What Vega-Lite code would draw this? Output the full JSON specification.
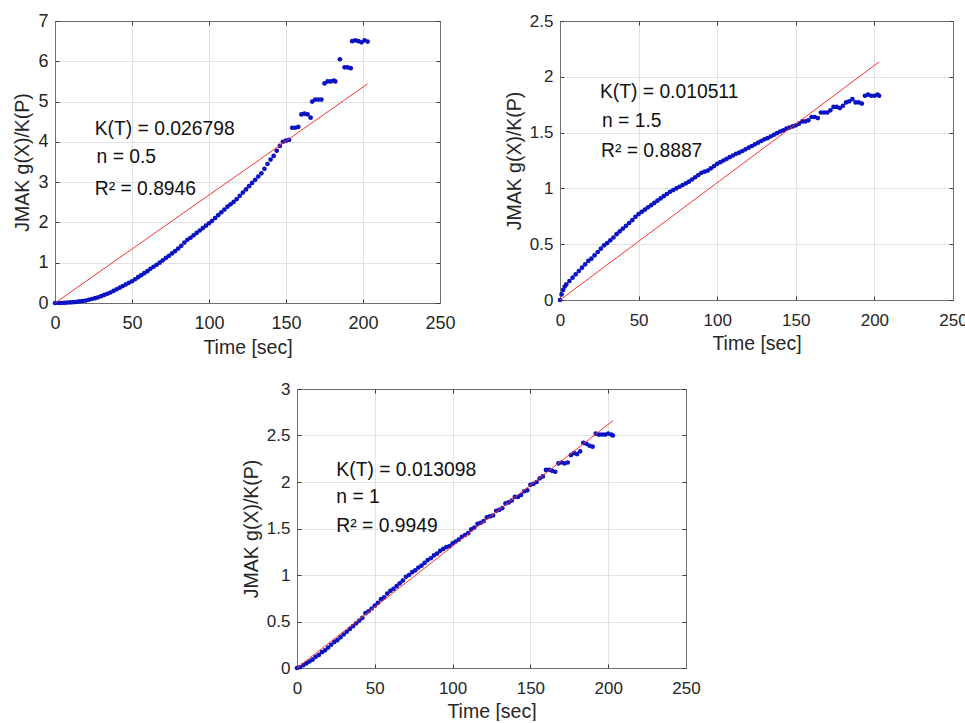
{
  "$schema": "https://vega.github.io/schema/vega-lite/v6.json",
  "background": "white",
  "padding": {"left": 12, "top": 12, "right": 0, "bottom": 0},
  "config": {
    "font": "Liberation Sans",
    "view": {"stroke": null},
    "axis": {
      "labelFont": "Liberation Sans",
      "titleFont": "Liberation Sans",
      "labelColor": "#262626",
      "titleColor": "#262626",
      "titleFontWeight": "normal",
      "titleFontSize": 19.5,
      "labelFontSize": 17,
      "domainColor": "#6e6e6e",
      "domainWidth": 1,
      "tickColor": "#3a3a3a",
      "tickSize": -4,
      "gridColor": "#e2e2e2",
      "labelFlush": false,
      "labelOverlap": false
    }
  },
  "datasets": {
    "p1": [
      {"t":0,"g":0},{"t":2,"g":0},{"t":4,"g":0},{"t":6,"g":0.005},{"t":8,"g":0.01},{"t":10,"g":0.015},{"t":12,"g":0.02},{"t":14,"g":0.03},{"t":16,"g":0.04},{"t":18,"g":0.05},
      {"t":20,"g":0.06},{"t":22,"g":0.08},{"t":24,"g":0.1},{"t":26,"g":0.12},{"t":28,"g":0.14},{"t":30,"g":0.17},{"t":32,"g":0.2},{"t":34,"g":0.23},{"t":36,"g":0.26},{"t":38,"g":0.3},
      {"t":40,"g":0.34},{"t":42,"g":0.38},{"t":44,"g":0.42},{"t":46,"g":0.46},{"t":48,"g":0.5},{"t":50,"g":0.54},{"t":52,"g":0.59},{"t":54,"g":0.64},{"t":56,"g":0.69},{"t":58,"g":0.74},
      {"t":60,"g":0.79},{"t":62,"g":0.85},{"t":64,"g":0.9},{"t":66,"g":0.95},{"t":68,"g":1.0},{"t":70,"g":1.06},{"t":72,"g":1.12},{"t":74,"g":1.17},{"t":76,"g":1.23},{"t":78,"g":1.29},
      {"t":80,"g":1.35},{"t":82,"g":1.42},{"t":84,"g":1.5},{"t":86,"g":1.57},{"t":88,"g":1.62},{"t":90,"g":1.68},{"t":92,"g":1.74},{"t":94,"g":1.8},{"t":96,"g":1.86},{"t":98,"g":1.92},
      {"t":100,"g":1.98},{"t":102,"g":2.04},{"t":104,"g":2.11},{"t":106,"g":2.18},{"t":108,"g":2.25},{"t":110,"g":2.32},{"t":112,"g":2.39},{"t":114,"g":2.45},{"t":116,"g":2.51},{"t":118,"g":2.58},
      {"t":120,"g":2.66},{"t":122,"g":2.74},{"t":124,"g":2.82},{"t":126,"g":2.9},{"t":128,"g":2.98},{"t":130,"g":3.06},{"t":132,"g":3.14},{"t":134,"g":3.22},{"t":136,"g":3.33},{"t":138,"g":3.45},
      {"t":140,"g":3.56},{"t":142,"g":3.65},{"t":144,"g":3.78},{"t":146,"g":3.9},{"t":148,"g":4.0},{"t":150,"g":4.03},{"t":152,"g":4.05},{"t":154,"g":4.35},{"t":156,"g":4.35},{"t":158,"g":4.37},
      {"t":160,"g":4.68},{"t":162,"g":4.7},{"t":164,"g":4.68},{"t":166,"g":4.6},{"t":167,"g":5.0},{"t":169,"g":5.05},{"t":171,"g":5.05},{"t":173,"g":5.05},{"t":175,"g":5.45},{"t":177,"g":5.5},
      {"t":179,"g":5.5},{"t":181,"g":5.52},{"t":182,"g":5.5},{"t":185,"g":6.05},{"t":188,"g":5.85},{"t":190,"g":5.85},{"t":192,"g":5.83},{"t":193,"g":6.5},{"t":195,"g":6.52},{"t":197,"g":6.5},
      {"t":199,"g":6.47},{"t":201,"g":6.52},{"t":203,"g":6.49}
    ],
    "p2": [
      {"t":0,"g":0},{"t":1,"g":0.05},{"t":2,"g":0.09},{"t":3,"g":0.12},{"t":4,"g":0.14},{"t":6,"g":0.17},{"t":8,"g":0.2},{"t":10,"g":0.23},{"t":12,"g":0.26},{"t":14,"g":0.29},
      {"t":16,"g":0.32},{"t":18,"g":0.35},{"t":20,"g":0.37},{"t":22,"g":0.4},{"t":24,"g":0.43},{"t":26,"g":0.46},{"t":28,"g":0.49},{"t":30,"g":0.51},{"t":32,"g":0.535},{"t":34,"g":0.56},
      {"t":36,"g":0.59},{"t":38,"g":0.615},{"t":40,"g":0.64},{"t":42,"g":0.665},{"t":44,"g":0.69},{"t":46,"g":0.715},{"t":48,"g":0.745},{"t":50,"g":0.77},{"t":52,"g":0.79},{"t":54,"g":0.81},
      {"t":56,"g":0.83},{"t":58,"g":0.85},{"t":60,"g":0.87},{"t":62,"g":0.89},{"t":64,"g":0.91},{"t":66,"g":0.93},{"t":68,"g":0.95},{"t":70,"g":0.97},{"t":72,"g":0.985},{"t":74,"g":1.0},
      {"t":76,"g":1.015},{"t":78,"g":1.03},{"t":80,"g":1.045},{"t":82,"g":1.06},{"t":84,"g":1.08},{"t":86,"g":1.1},{"t":88,"g":1.12},{"t":90,"g":1.14},{"t":92,"g":1.15},{"t":94,"g":1.16},
      {"t":96,"g":1.18},{"t":98,"g":1.2},{"t":100,"g":1.22},{"t":102,"g":1.235},{"t":104,"g":1.25},{"t":106,"g":1.265},{"t":108,"g":1.28},{"t":110,"g":1.295},{"t":112,"g":1.31},{"t":114,"g":1.32},
      {"t":116,"g":1.335},{"t":118,"g":1.35},{"t":120,"g":1.365},{"t":122,"g":1.38},{"t":124,"g":1.395},{"t":126,"g":1.41},{"t":128,"g":1.425},{"t":130,"g":1.44},{"t":132,"g":1.45},{"t":134,"g":1.465},
      {"t":136,"g":1.48},{"t":138,"g":1.495},{"t":140,"g":1.51},{"t":142,"g":1.52},{"t":144,"g":1.535},{"t":146,"g":1.545},{"t":148,"g":1.555},{"t":150,"g":1.565},{"t":152,"g":1.58},{"t":154,"g":1.6},
      {"t":156,"g":1.6},{"t":158,"g":1.61},{"t":160,"g":1.64},{"t":162,"g":1.64},{"t":164,"g":1.63},{"t":166,"g":1.68},{"t":168,"g":1.68},{"t":170,"g":1.68},{"t":172,"g":1.7},{"t":174,"g":1.73},
      {"t":176,"g":1.73},{"t":178,"g":1.72},{"t":180,"g":1.74},{"t":182,"g":1.77},{"t":184,"g":1.78},{"t":186,"g":1.8},{"t":188,"g":1.77},{"t":190,"g":1.77},{"t":192,"g":1.76},{"t":194,"g":1.83},
      {"t":196,"g":1.84},{"t":198,"g":1.83},{"t":200,"g":1.83},{"t":202,"g":1.84},{"t":203,"g":1.83}
    ],
    "p3": [
      {"t":0,"g":0},{"t":2,"g":0.01},{"t":4,"g":0.03},{"t":6,"g":0.05},{"t":8,"g":0.07},{"t":10,"g":0.09},{"t":12,"g":0.12},{"t":14,"g":0.14},{"t":16,"g":0.17},{"t":18,"g":0.19},
      {"t":20,"g":0.22},{"t":22,"g":0.25},{"t":24,"g":0.28},{"t":26,"g":0.3},{"t":28,"g":0.33},{"t":30,"g":0.36},{"t":32,"g":0.39},{"t":34,"g":0.42},{"t":36,"g":0.45},{"t":38,"g":0.48},
      {"t":40,"g":0.51},{"t":42,"g":0.54},{"t":44,"g":0.59},{"t":46,"g":0.61},{"t":48,"g":0.64},{"t":50,"g":0.67},{"t":52,"g":0.7},{"t":54,"g":0.74},{"t":56,"g":0.76},{"t":58,"g":0.8},
      {"t":60,"g":0.83},{"t":62,"g":0.85},{"t":64,"g":0.88},{"t":66,"g":0.91},{"t":68,"g":0.94},{"t":70,"g":0.98},{"t":72,"g":1.0},{"t":74,"g":1.03},{"t":76,"g":1.05},{"t":78,"g":1.08},
      {"t":80,"g":1.1},{"t":82,"g":1.13},{"t":84,"g":1.16},{"t":86,"g":1.18},{"t":88,"g":1.21},{"t":90,"g":1.23},{"t":92,"g":1.26},{"t":94,"g":1.28},{"t":96,"g":1.3},{"t":98,"g":1.31},
      {"t":100,"g":1.34},{"t":102,"g":1.36},{"t":104,"g":1.38},{"t":106,"g":1.41},{"t":108,"g":1.43},{"t":110,"g":1.45},{"t":112,"g":1.49},{"t":114,"g":1.51},{"t":116,"g":1.55},{"t":118,"g":1.56},
      {"t":120,"g":1.58},{"t":122,"g":1.62},{"t":124,"g":1.63},{"t":126,"g":1.64},{"t":128,"g":1.69},{"t":130,"g":1.7},{"t":132,"g":1.72},{"t":134,"g":1.77},{"t":136,"g":1.78},{"t":138,"g":1.8},
      {"t":140,"g":1.84},{"t":142,"g":1.84},{"t":144,"g":1.86},{"t":146,"g":1.9},{"t":148,"g":1.91},{"t":150,"g":1.97},{"t":152,"g":1.98},{"t":154,"g":2.0},{"t":156,"g":2.04},{"t":158,"g":2.06},
      {"t":160,"g":2.13},{"t":162,"g":2.13},{"t":164,"g":2.12},{"t":166,"g":2.11},{"t":168,"g":2.2},{"t":170,"g":2.21},{"t":172,"g":2.2},{"t":174,"g":2.21},{"t":176,"g":2.29},{"t":178,"g":2.31},
      {"t":180,"g":2.3},{"t":182,"g":2.33},{"t":184,"g":2.42},{"t":186,"g":2.41},{"t":188,"g":2.39},{"t":190,"g":2.38},{"t":192,"g":2.52},{"t":194,"g":2.51},{"t":196,"g":2.51},{"t":198,"g":2.51},
      {"t":200,"g":2.52},{"t":202,"g":2.51},{"t":203,"g":2.5}
    ],
    "f1": [{"t":0,"g":0},{"t":203,"g":5.44}],
    "f2": [{"t":0,"g":0},{"t":203,"g":2.134}],
    "f3": [{"t":0,"g":0},{"t":203,"g":2.659}],
    "a1": [
      {"t":25.8,"g":4.33,"label":"K(T) = 0.026798"},
      {"t":27.0,"g":3.63,"label":"n = 0.5"},
      {"t":25.8,"g":2.84,"label":"R² = 0.8946"}
    ],
    "a2": [
      {"t":25.4,"g":1.866,"label":"K(T) = 0.010511"},
      {"t":26.7,"g":1.607,"label":"n = 1.5"},
      {"t":26.1,"g":1.338,"label":"R² = 0.8887"}
    ],
    "a3": [
      {"t":25.3,"g":2.129,"label":"K(T) = 0.013098"},
      {"t":25.3,"g":1.834,"label":"n = 1"},
      {"t":25.3,"g":1.53,"label":"R² = 0.9949"}
    ]
  },
  "bounds": "full",
  "spacing": 23,
  "vconcat": [
    {
      "bounds": "flush",
      "spacing": 120,
      "hconcat": [
        {
          "width": 385,
          "height": 282,
          "layer": [
            {
              "data": {"name": "p1"},
              "mark": {"type": "point", "filled": true, "shape": "circle", "size": 22, "color": "#0a12c4", "opacity": 1},
              "encoding": {
                "x": {"field": "t", "type": "quantitative", "scale": {"domain": [0, 250], "nice": false},
                  "axis": {"orient": "bottom", "values": [0, 50, 100, 150, 200, 250], "grid": true, "labelFontSize": 18, "labelPadding": 15, "title": "Time [sec]", "titlePadding": 6}},
                "y": {"field": "g", "type": "quantitative", "scale": {"domain": [0, 7], "nice": false},
                  "axis": {"orient": "left", "values": [0, 1, 2, 3, 4, 5, 6, 7], "format": "~g", "grid": true, "labelFontSize": 18, "labelPadding": 11, "title": "JMAK g(X)/K(P)", "titlePadding": 5}}
              }
            },
            {
              "data": {"name": "f1"},
              "mark": {"type": "line", "color": "#ff3030", "strokeWidth": 1},
              "encoding": {
                "x": {"field": "t", "type": "quantitative", "scale": {"domain": [0, 250], "nice": false},
                  "axis": {"orient": "top", "values": [0, 50, 100, 150, 200, 250], "grid": false, "labels": false, "title": null}},
                "y": {"field": "g", "type": "quantitative", "scale": {"domain": [0, 7], "nice": false},
                  "axis": {"orient": "right", "values": [0, 1, 2, 3, 4, 5, 6, 7], "grid": false, "labels": false, "title": null}}
              }
            },
            {
              "data": {"name": "a1"},
              "mark": {"type": "text", "align": "left", "baseline": "middle", "fontSize": 19.3, "color": "#111111", "font": "Liberation Sans"},
              "encoding": {
                "x": {"field": "t", "type": "quantitative", "scale": {"domain": [0, 250], "nice": false}, "axis": null},
                "y": {"field": "g", "type": "quantitative", "scale": {"domain": [0, 7], "nice": false}, "axis": null},
                "text": {"field": "label"}
              }
            }
          ],
          "resolve": {"axis": {"x": "independent", "y": "independent"}}
        },
        {
          "width": 393,
          "height": 279,
          "layer": [
            {
              "data": {"name": "p2"},
              "mark": {"type": "point", "filled": true, "shape": "circle", "size": 22, "color": "#0a12c4", "opacity": 1},
              "encoding": {
                "x": {"field": "t", "type": "quantitative", "scale": {"domain": [0, 250], "nice": false},
                  "axis": {"orient": "bottom", "values": [0, 50, 100, 150, 200, 250], "grid": true, "labelPadding": 16, "title": "Time [sec]", "titlePadding": 6}},
                "y": {"field": "g", "type": "quantitative", "scale": {"domain": [0, 2.5], "nice": false},
                  "axis": {"orient": "left", "values": [0, 0.5, 1, 1.5, 2, 2.5], "format": "~g", "grid": true, "labelPadding": 11, "title": "JMAK g(X)/K(P)", "titlePadding": 5}}
              }
            },
            {
              "data": {"name": "f2"},
              "mark": {"type": "line", "color": "#ff3030", "strokeWidth": 1},
              "encoding": {
                "x": {"field": "t", "type": "quantitative", "scale": {"domain": [0, 250], "nice": false},
                  "axis": {"orient": "top", "values": [0, 50, 100, 150, 200, 250], "grid": false, "labels": false, "title": null}},
                "y": {"field": "g", "type": "quantitative", "scale": {"domain": [0, 2.5], "nice": false},
                  "axis": {"orient": "right", "values": [0, 0.5, 1, 1.5, 2, 2.5], "grid": false, "labels": false, "title": null}}
              }
            },
            {
              "data": {"name": "a2"},
              "mark": {"type": "text", "align": "left", "baseline": "middle", "fontSize": 19.3, "color": "#111111", "font": "Liberation Sans"},
              "encoding": {
                "x": {"field": "t", "type": "quantitative", "scale": {"domain": [0, 250], "nice": false}, "axis": null},
                "y": {"field": "g", "type": "quantitative", "scale": {"domain": [0, 2.5], "nice": false}, "axis": null},
                "text": {"field": "label"}
              }
            }
          ],
          "resolve": {"axis": {"x": "independent", "y": "independent"}}
        }
      ]
    },
    {
      "bounds": "flush",
      "spacing": 120,
      "hconcat": [
        {
          "width": 122,
          "height": 10,
          "mark": {"type": "rule", "opacity": 0},
          "encoding": {}
        },
        {
          "width": 389,
          "height": 279,
          "layer": [
            {
              "data": {"name": "p3"},
              "mark": {"type": "point", "filled": true, "shape": "circle", "size": 22, "color": "#0a12c4", "opacity": 1},
              "encoding": {
                "x": {"field": "t", "type": "quantitative", "scale": {"domain": [0, 250], "nice": false},
                  "axis": {"orient": "bottom", "values": [0, 50, 100, 150, 200, 250], "grid": true, "labelPadding": 16, "title": "Time [sec]", "titlePadding": 6}},
                "y": {"field": "g", "type": "quantitative", "scale": {"domain": [0, 3], "nice": false},
                  "axis": {"orient": "left", "values": [0, 0.5, 1, 1.5, 2, 2.5, 3], "format": "~g", "grid": true, "labelPadding": 11, "title": "JMAK g(X)/K(P)", "titlePadding": 5}}
              }
            },
            {
              "data": {"name": "f3"},
              "mark": {"type": "line", "color": "#ff3030", "strokeWidth": 1},
              "encoding": {
                "x": {"field": "t", "type": "quantitative", "scale": {"domain": [0, 250], "nice": false},
                  "axis": {"orient": "top", "values": [0, 50, 100, 150, 200, 250], "grid": false, "labels": false, "title": null}},
                "y": {"field": "g", "type": "quantitative", "scale": {"domain": [0, 3], "nice": false},
                  "axis": {"orient": "right", "values": [0, 0.5, 1, 1.5, 2, 2.5, 3], "grid": false, "labels": false, "title": null}}
              }
            },
            {
              "data": {"name": "a3"},
              "mark": {"type": "text", "align": "left", "baseline": "middle", "fontSize": 19.3, "color": "#111111", "font": "Liberation Sans"},
              "encoding": {
                "x": {"field": "t", "type": "quantitative", "scale": {"domain": [0, 250], "nice": false}, "axis": null},
                "y": {"field": "g", "type": "quantitative", "scale": {"domain": [0, 3], "nice": false}, "axis": null},
                "text": {"field": "label"}
              }
            }
          ],
          "resolve": {"axis": {"x": "independent", "y": "independent"}}
        }
      ]
    }
  ]
}
